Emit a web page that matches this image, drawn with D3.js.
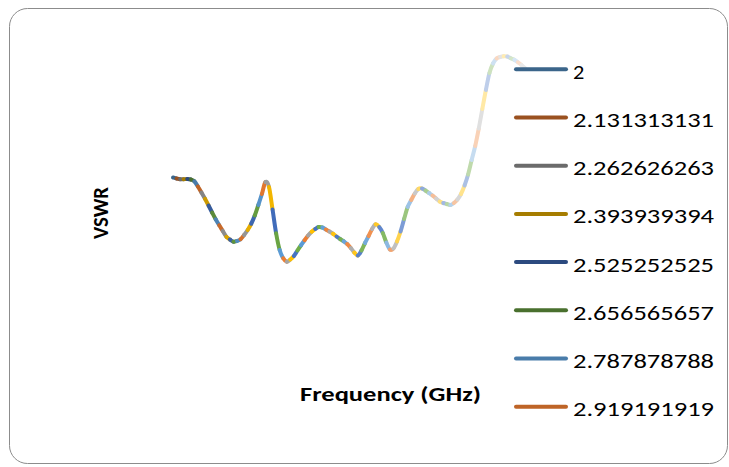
<!DOCTYPE html>
<html><head><meta charset="utf-8">
<script src="https://cdn.jsdelivr.net/npm/d3@7"></script>
<style>html,body{margin:0;padding:0;background:#fff;}svg{display:block;}</style>
</head><body>
<script>
// Frequencies (GHz) – series names
const frequencies = [2,2.131313131,2.262626263,2.393939394,2.525252525,2.656565657,2.787878788,2.919191919,3.050505051,3.181818182,
3.313131313,3.444444444,3.575757576,3.707070707,3.838383838,3.96969697,4.101010101,4.232323232,4.363636364,4.494949495,
4.626262626,4.757575758,4.888888889,5.02020202,5.151515152,5.282828283,5.414141414,5.545454545,5.676767677,5.808080808,
5.939393939,6.070707071,6.202020202,6.333333333,6.464646465,6.595959596,6.727272727,6.858585859,6.98989899,7.121212121,
7.252525253,7.383838384,7.515151515,7.646464646,7.777777778,7.909090909,8.04040404,8.171717172,8.303030303,8.434343434,
8.565656566,8.696969697,8.828282828,8.95959596,9.090909091,9.222222222,9.353535354,9.484848485,9.616161616,9.747474747,
9.878787879,10.01010101,10.14141414,10.27272727,10.4040404,10.53535354,10.66666667,10.7979798,10.92929293,11.06060606,
11.19191919,11.32323232,11.45454545,11.58585859,11.71717172,11.84848485,11.97979798,12.11111111,12.24242424,12.37373737,
12.50505051,12.63636364,12.76767677,12.8989899,13.03030303,13.16161616,13.29292929,13.42424242,13.55555556,13.68686869,
13.81818182,13.94949495,14.08080808,14.21212121,14.34343434,14.47474747,14.60606061,14.73737374,14.86868687,15];

// VSWR values (estimated)
const vswr = [4.50,4.46,4.43,4.43,4.44,4.42,4.35,4.14,3.90,3.65,
3.38,3.10,2.83,2.59,2.36,2.13,2.02,1.93,1.96,2.03,
2.20,2.40,2.65,2.98,3.40,3.84,4.32,4.12,3.22,2.27,
1.60,1.27,1.13,1.22,1.36,1.58,1.79,1.99,2.18,2.33,
2.44,2.52,2.50,2.42,2.34,2.25,2.14,2.04,1.95,1.84,
1.68,1.50,1.38,1.58,1.88,2.16,2.44,2.63,2.52,2.28,
1.90,1.62,1.66,1.94,2.34,2.84,3.32,3.60,3.86,4.04,
4.06,3.98,3.88,3.78,3.66,3.54,3.48,3.44,3.40,3.48,
3.62,3.84,4.18,4.62,5.20,5.76,6.46,7.24,8.00,8.68,
9.06,9.26,9.32,9.35,9.34,9.27,9.21,9.11,9.00,8.88];

const legendShown = 8;
const hues = ["#5B9BD5","#ED7D31","#A5A5A5","#FFC000","#4472C4","#70AD47"];
const shades = [-0.35,-0.2,-0.15,-0.1,-0.05,0,0,0.05,0.1,0.15,0.3,0.4,0.5,0.55,0.65,0.7,0.75];

function seriesColor(i){
  const base = hues[i % hues.length];
  const t = shades[Math.min(shades.length-1, Math.floor(i / hues.length))];
  return t < 0 ? d3.interpolateRgb(base, "#000")(-t) : d3.interpolateRgb(base, "#fff")(t);
}

const W = 729, H = 467;
const svg = d3.select("body").append("svg").attr("width", W).attr("height", H);

svg.append("rect").attr("x", 9.5).attr("y", 8.5).attr("width", 718).attr("height", 455)
  .attr("rx", 18).attr("fill", "#fff").attr("stroke", "#8c8c8c").attr("stroke-width", 1);

const x = d3.scaleLinear().domain([2, 15]).range([173, 525]);
const y = d3.scaleLinear().domain([0, 10]).range([290, 40]);

const pts = frequencies.map((f, i) => [x(f), y(vswr[i])]);
const n = pts.length;
const g = svg.append("g");
for (let i = 0; i < n - 1; i++) {
  const p0 = pts[Math.max(0, i - 1)], p1 = pts[i], p2 = pts[i + 1], p3 = pts[Math.min(n - 1, i + 2)];
  const c1 = [p1[0] + (p2[0] - p0[0]) / 6, p1[1] + (p2[1] - p0[1]) / 6];
  const c2 = [p2[0] - (p3[0] - p1[0]) / 6, p2[1] - (p3[1] - p1[1]) / 6];
  const path = d3.path();
  path.moveTo(p1[0], p1[1]);
  path.bezierCurveTo(c1[0], c1[1], c2[0], c2[1], p2[0], p2[1]);
  g.append("path").attr("d", path.toString()).attr("fill", "none")
    .attr("stroke", seriesColor(i)).attr("stroke-width", 4).attr("stroke-linecap", "round");
}

// Axis titles
svg.append("text").attr("transform", "translate(108,213) rotate(-90)")
  .attr("text-anchor", "middle").attr("font-family", "Carlito, Lato, sans-serif")
  .attr("font-weight", "bold").attr("font-size", 22)
  .attr("textLength", 52).attr("lengthAdjust", "spacingAndGlyphs").text("VSWR");
svg.append("text").attr("x", 300).attr("y", 401)
  .attr("font-family", "Carlito, Lato, sans-serif")
  .attr("font-weight", "bold").attr("font-size", 20)
  .attr("textLength", 181).attr("lengthAdjust", "spacingAndGlyphs").text("Frequency (GHz)");

// Legend
const leg = svg.append("g");
for (let k = 0; k < legendShown; k++) {
  const ly = 69.3 + 48.2 * k;
  leg.append("line").attr("x1", 516).attr("x2", 566).attr("y1", ly).attr("y2", ly)
    .attr("stroke", seriesColor(k)).attr("stroke-width", 4).attr("stroke-linecap", "round");
  const label = String(frequencies[k]);
  leg.append("text").attr("x", 573).attr("y", ly + 9.5)
    .attr("font-family", "Carlito, Lato, sans-serif").attr("font-size", 19.5).attr("fill", "#000")
    .attr("textLength", label.length === 1 ? 11.3 : 141).attr("lengthAdjust", "spacingAndGlyphs")
    .text(label);
}
</script>
</body></html>
